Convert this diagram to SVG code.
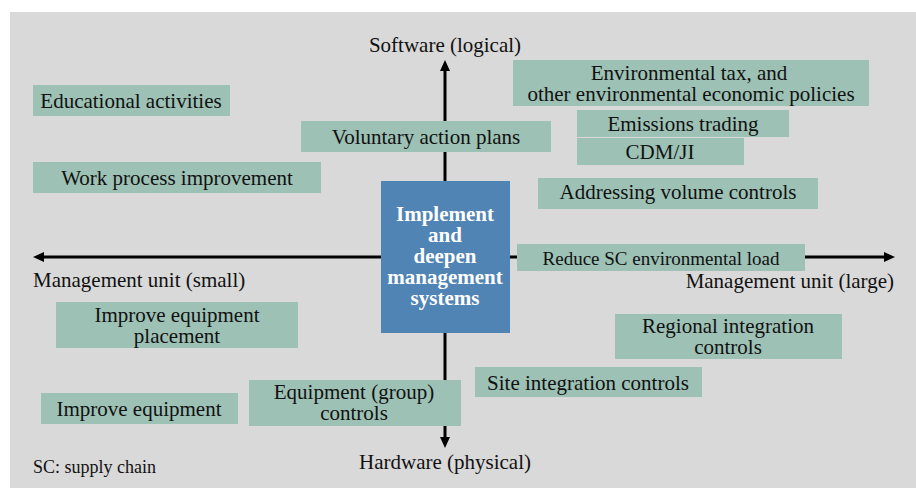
<svg xmlns="http://www.w3.org/2000/svg" width="916" height="488" viewBox="0 0 916 488">
<defs>
<style>
.bg{fill:#d9d9d9}
.box{fill:#9dc1b5}
.core{fill:#4f84b5}
.t{font-family:"Liberation Serif","Times New Roman",serif;font-size:21px;fill:#111;text-anchor:middle}
.ts{font-size:19px}
.tl{font-family:"Liberation Serif","Times New Roman",serif;font-size:21px;fill:#111}
.tc{font-family:"Liberation Serif","Times New Roman",serif;font-size:21px;font-weight:bold;fill:#fff;text-anchor:middle}
.ax{stroke:#000;stroke-width:3;fill:none}
</style>
<marker id="ah" markerUnits="userSpaceOnUse" markerWidth="12" markerHeight="10" refX="0" refY="5" orient="auto-start-reverse" viewBox="0 0 12 10">
<path d="M0,0 L11,5 L0,10 z" fill="#000"/>
</marker>
</defs>
<rect class="bg" x="10" y="12" width="906" height="476"/>
<g id="connectors">
<line class="ax" x1="445" y1="71" x2="445" y2="437" marker-start="url(#ah)" marker-end="url(#ah)"/>
<line class="ax" x1="44" y1="257" x2="884" y2="257" marker-start="url(#ah)" marker-end="url(#ah)"/>
</g>
<g id="axis-labels">
<text class="t" x="445" y="52">Software (logical)</text>
<text class="t" x="445" y="469">Hardware (physical)</text>
<text class="tl" x="33" y="287">Management unit (small)</text>
<text class="tl" x="894" y="288" text-anchor="end">Management unit (large)</text>
<text class="tl" x="33" y="473" style="font-size:18px">SC: supply chain</text>
</g>
<g id="center">
<rect class="core" x="381" y="181" width="129" height="152"/>
<text class="tc" x="445" y="221">Implement</text>
<text class="tc" x="445" y="242">and</text>
<text class="tc" x="445" y="263">deepen</text>
<text class="tc" x="445" y="284">management</text>
<text class="tc" x="445" y="305">systems</text>
</g>
<g id="educational">
<rect class="box" x="33" y="85" width="197" height="31"/>
<text class="t" x="131" y="108">Educational activities</text>
</g>
<g id="workprocess">
<rect class="box" x="33" y="162" width="288" height="31"/>
<text class="t" x="177" y="185">Work process improvement</text>
</g>
<g id="voluntary">
<rect class="box" x="301" y="121" width="250" height="31"/>
<text class="t" x="426" y="144">Voluntary action plans</text>
</g>
<g id="envtax">
<rect class="box" x="513" y="60" width="356" height="46"/>
<text class="t" x="689" y="80">Environmental tax, and</text>
<text class="t" x="691" y="101">other environmental economic policies</text>
</g>
<g id="emissions">
<rect class="box" x="577" y="110" width="212" height="27"/>
<text class="t" x="683" y="131">Emissions trading</text>
</g>
<g id="cdm">
<rect class="box" x="577" y="138" width="167" height="27"/>
<text class="t" x="660" y="159">CDM/JI</text>
</g>
<g id="volume">
<rect class="box" x="538" y="178" width="280" height="31"/>
<text class="t" x="678" y="199">Addressing volume controls</text>
</g>
<g id="reducesc">
<rect class="box" x="517" y="244" width="288" height="27"/>
<text class="t ts" x="661" y="265">Reduce SC environmental load</text>
</g>
<g id="placement">
<rect class="box" x="56" y="302" width="242" height="46"/>
<text class="t" x="177" y="322">Improve equipment</text>
<text class="t" x="177" y="343">placement</text>
</g>
<g id="regional">
<rect class="box" x="615" y="314" width="227" height="45"/>
<text class="t" x="728" y="333">Regional integration</text>
<text class="t" x="728" y="354">controls</text>
</g>
<g id="site">
<rect class="box" x="475" y="367" width="227" height="30"/>
<text class="t" x="588" y="390">Site integration controls</text>
</g>
<g id="groupcontrols">
<rect class="box" x="249" y="380" width="212" height="46"/>
<text class="t" x="354" y="399">Equipment (group)</text>
<text class="t" x="354" y="420">controls</text>
</g>
<g id="equipment">
<rect class="box" x="41" y="393" width="197" height="31"/>
<text class="t" x="139" y="416">Improve equipment</text>
</g>
</svg>
